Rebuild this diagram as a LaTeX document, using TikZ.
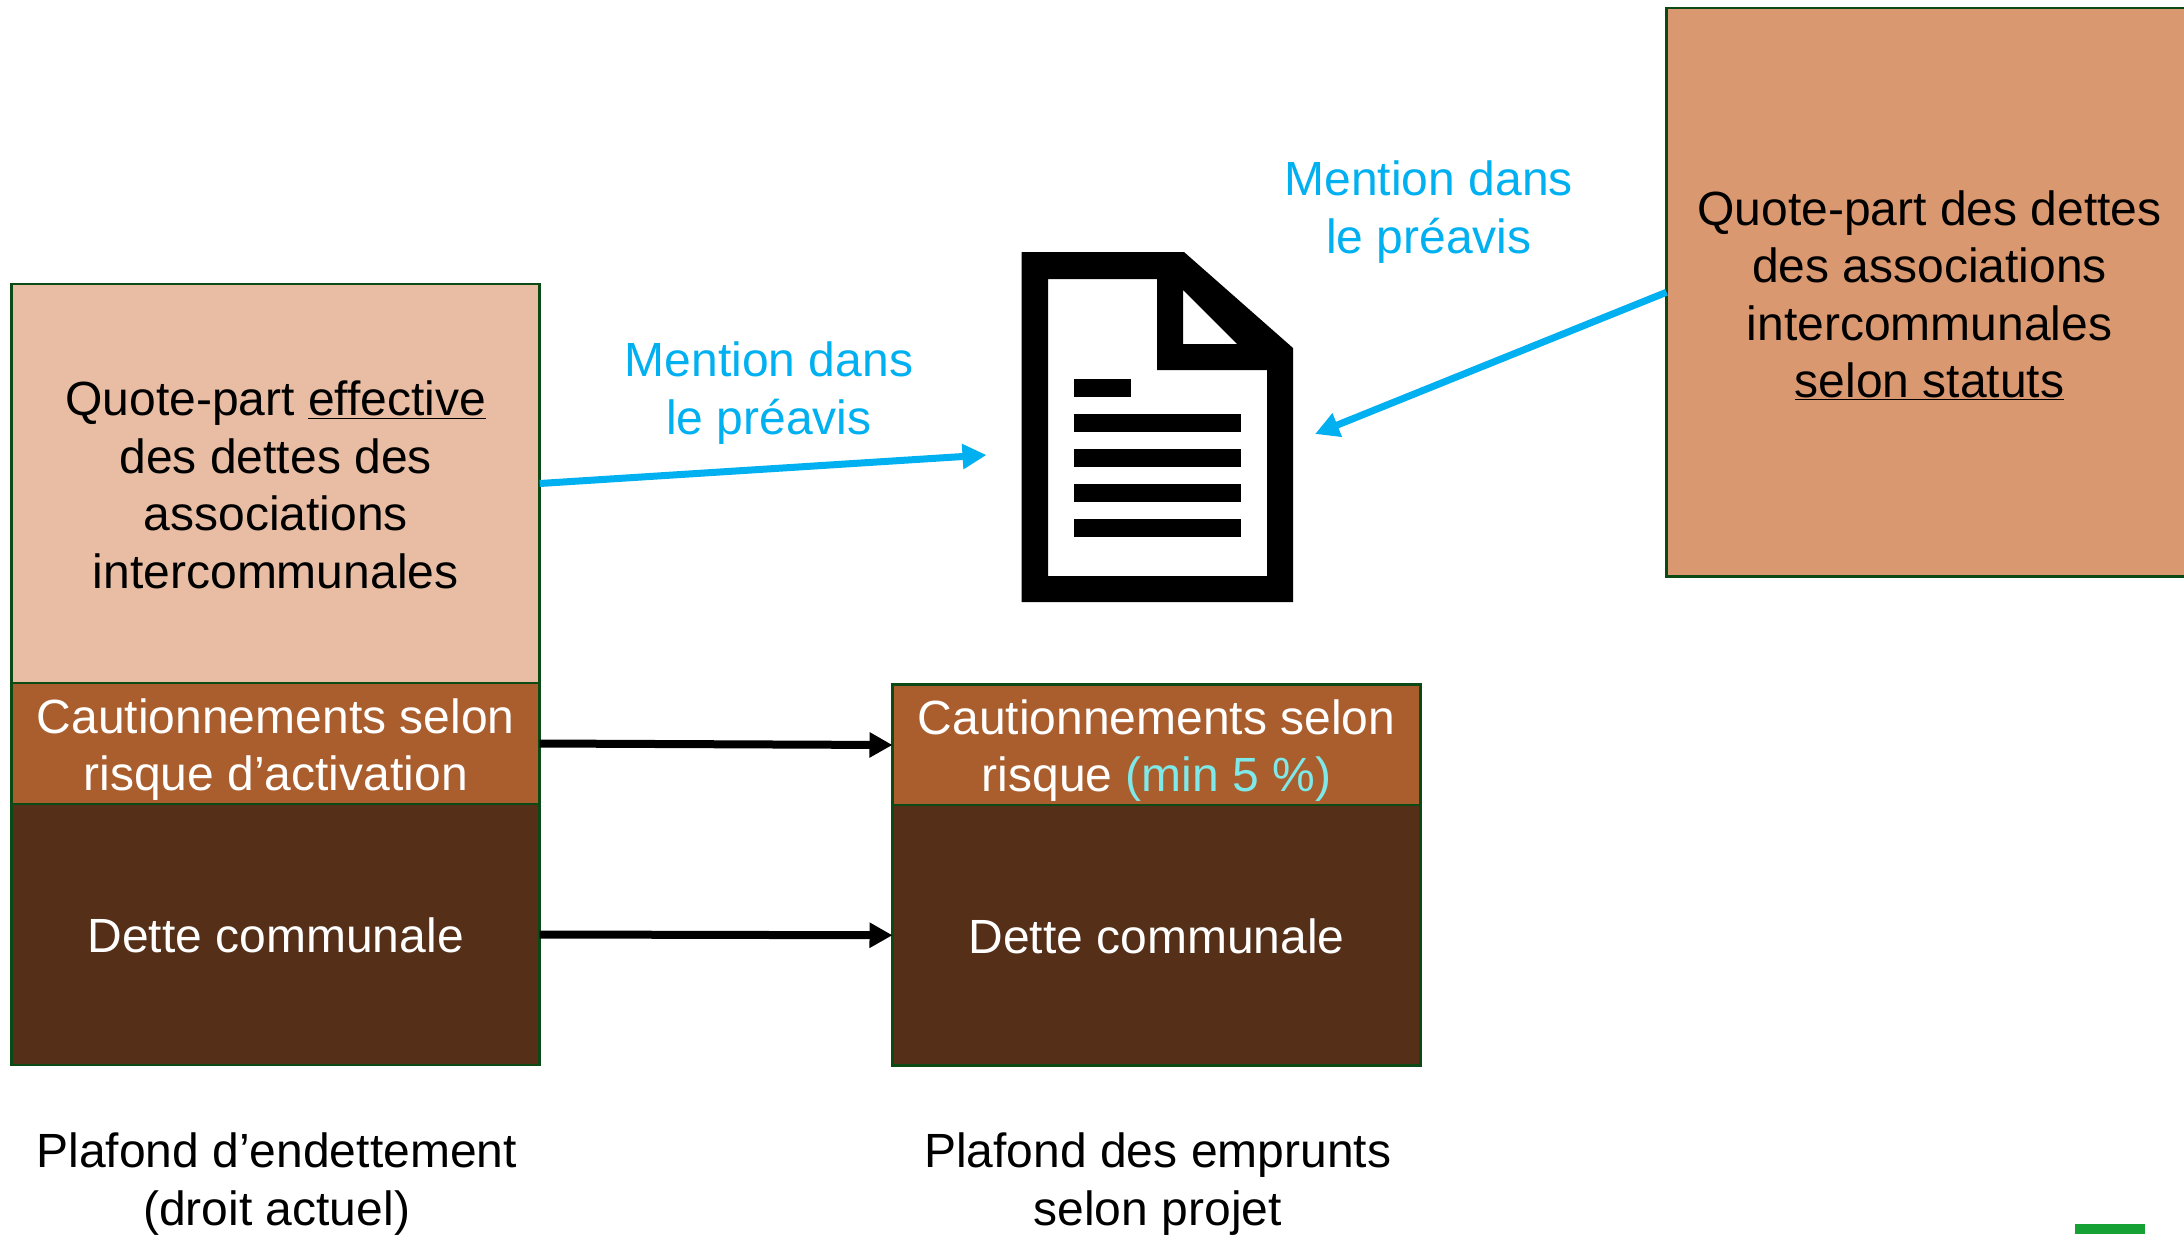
\documentclass[tikz,border=0pt]{standalone}
\usepackage{fontspec}
\setmainfont{Liberation Sans}
\usetikzlibrary{arrows.meta}
\definecolor{boxline}{HTML}{0B4A14}
\definecolor{paleclay}{HTML}{E8BDA3}
\definecolor{midclay}{HTML}{AB5E2D}
\definecolor{darkclay}{HTML}{552F17}
\definecolor{sandclay}{HTML}{D9986F}
\definecolor{skyblue}{HTML}{00B0F0}
\definecolor{palecyan}{HTML}{7FE8E8}
\definecolor{tabgreen}{HTML}{16A135}
% pushes a node's text down by #1 pt (taller first line, centred text block)
\newcommand{\pushdown}[1]{\rule{0pt}{\dimexpr 35pt+2\dimexpr #1pt\relax\relax}}
\tikzset{
  x=1pt,y=-1pt,
  txt/.style={align=center,inner sep=0pt,outer sep=0pt,font=\fontsize{48}{57.5}\selectfont},
  block/.style={txt,draw=boxline,line width=2.6pt},
  bluearrow/.style={draw=skyblue,line width=7pt,-{Triangle[length=24pt,width=24pt]}},
  blackarrow/.style={draw=black,line width=8pt,-{Triangle[length=23pt,width=24pt]}},
  ink/.style={fill=black,draw=none}
}
\begin{document}
\begin{tikzpicture}
\useasboundingbox (0,0) rectangle (2184,1234);
\fill[white] (0,0) rectangle (2184,1234);
% left stack
\node[block,fill=paleclay,minimum width=528pt,minimum height=399pt] (quote) at (275.7,483.5)
  {\pushdown{1.4}Quote-part \underline{effective}\\des dettes des\\associations\\intercommunales};
\node[block,fill=midclay,text=white,minimum width=528pt,minimum height=121pt] (caut) at (275.7,743.5)
  {\pushdown{5.8}Cautionnements selon\\risque d’activation};
\node[block,fill=darkclay,text=white,minimum width=528pt,minimum height=261pt] (dette) at (275.7,934.5)
  {\pushdown{1}Dette communale};
% middle stack
\node[block,fill=midclay,text=white,minimum width=528pt,minimum height=121pt] (cautb) at (1156.5,745)
  {\pushdown{5.5}Cautionnements selon\\risque {\color{palecyan}(min 5 \%)}};
\node[block,fill=darkclay,text=white,minimum width=528pt,minimum height=260.5pt] (detteb) at (1156.5,935.25)
  {\pushdown{0.5}Dette communale};
% right box
\node[block,fill=sandclay,minimum width=526pt,minimum height=568.5pt] (statuts) at (1929.5,292.25)
  {\pushdown{3}Quote-part des dettes\\des associations\\intercommunales\\\underline{selon statuts}};
% labels
\node[txt,text=skyblue] (lblA) at (769,393) {Mention dans\\le préavis};
\node[txt,text=skyblue] (lblB) at (1428.7,212) {Mention dans\\le préavis};
\node[txt] (capA) at (276.7,1184) {Plafond d’endettement\\(droit actuel)};
\node[txt] (capB) at (1157.7,1184) {Plafond des emprunts\\selon projet};
% document icon
\fill[ink,even odd rule]
  (1021.5,252) -- (1184,252) -- (1293,348) -- (1293,602) -- (1021.5,602) -- cycle
  (1048,279) -- (1157,279) -- (1157,370) -- (1267,370) -- (1267,576) -- (1048,576) -- cycle
  (1183,290) -- (1237,344) -- (1183,344) -- cycle;
\fill[ink] (1074,379) rectangle (1131,397);
\fill[ink] (1074,414) rectangle (1241,432);
\fill[ink] (1074,449) rectangle (1241,467);
\fill[ink] (1074,484) rectangle (1241,502);
\fill[ink] (1074,519) rectangle (1241,537);
\coordinate (docL) at (986.5,455);
\coordinate (docR) at (1315,434);
% connectors
\draw[bluearrow] (quote.east) -- (docL);
\draw[bluearrow] (statuts.west) -- (docR);
\draw[blackarrow] (caut.east) -- (cautb.west);
\draw[blackarrow] (dette.east) -- (detteb.west);
% corner tab
\fill[tabgreen] (2075,1224) rectangle (2145,1234);
\end{tikzpicture}
\end{document}
